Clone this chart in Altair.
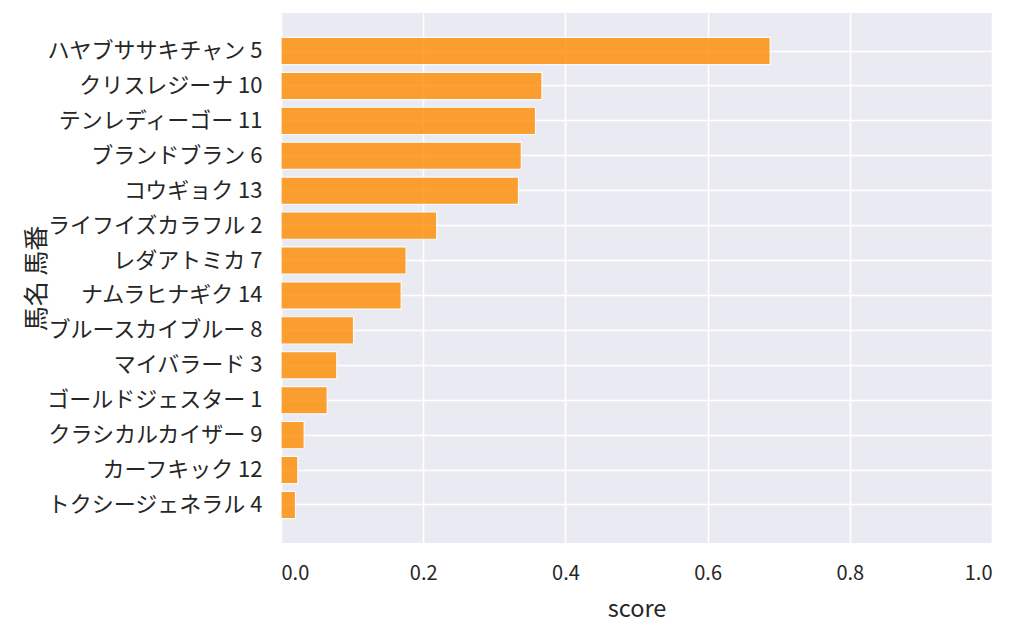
import altair as alt
import pandas as pd

names = ["ハヤブササキチャン 5", "クリスレジーナ 10", "テンレディーゴー 11", "ブランドブラン 6",
         "コウギョク 13", "ライフイズカラフル 2", "レダアトミカ 7", "ナムラヒナギク 14",
         "ブルースカイブルー 8", "マイバラード 3", "ゴールドジェスター 1", "クラシカルカイザー 9",
         "カーフキック 12", "トクシージェネラル 4"]
scores = [0.688, 0.367, 0.358, 0.338, 0.334, 0.219, 0.176, 0.169,
          0.102, 0.0785, 0.065, 0.0326, 0.0237, 0.0204]

df = pd.DataFrame({"馬名 馬番": names, "score": scores})

FONT = "Noto Sans CJK JP"

chart = alt.Chart(df).mark_bar(
    color="#ff8c00", opacity=0.8, stroke="white", strokeWidth=1.2
).encode(
    x=alt.X("score:Q", scale=alt.Scale(domain=[0, 1], nice=False),
            axis=alt.Axis(values=[0, 0.2, 0.4, 0.6, 0.8, 1.0], format=".1f",
                          title="score", labelPadding=20, titlePadding=14,
                          labelFontSize=20, titleFontSize=23.5)),
    y=alt.Y("馬名 馬番:N", sort=names,
            scale=alt.Scale(paddingInner=0.22, paddingOuter=0.7),
            axis=alt.Axis(bandPosition=0.5, title="馬名 馬番", labelPadding=19,
                          titleX=-245, titleY=265, titleAngle=270, titleBaseline="middle",
                          titleAlign="center", labelLimit=400,
                          labelFontSize=22, titleFontSize=25)),
).properties(
    width=711, height=530,
    padding={"left": 16, "top": 5, "right": 5, "bottom": 5}
).configure_view(
    fill="#EAEAF2", stroke=None
).configure_axis(
    grid=True, gridColor="white", gridWidth=1.6, domain=False, ticks=False,
    labelFont=FONT, labelColor="#262626",
    titleFont=FONT, titleColor="#262626", titleFontWeight="normal",
)

chart.save("out.html", embed_options={"renderer": "svg", "actions": False})
